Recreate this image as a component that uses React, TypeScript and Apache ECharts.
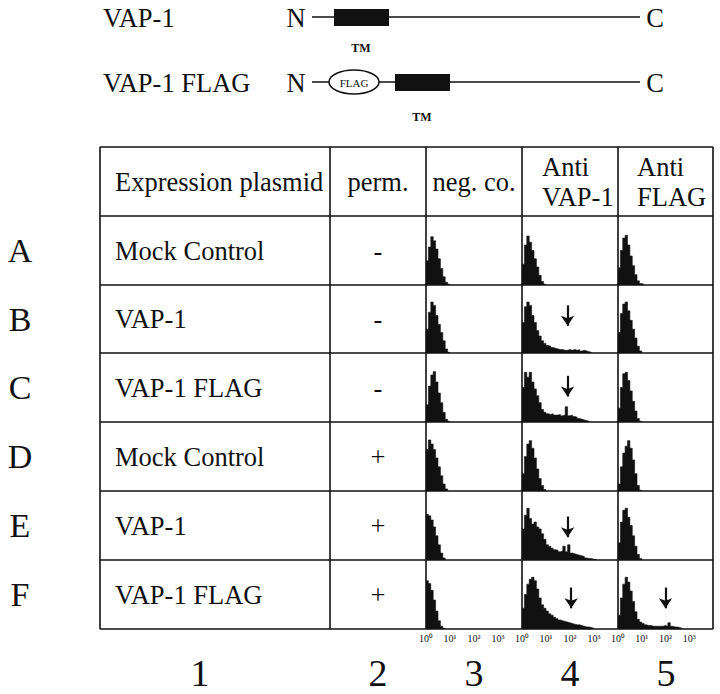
import React, { useEffect, useRef } from "react";
import * as echarts from "echarts";

// ---------- data ----------
const ROW_LETTERS = ["A", "B", "C", "D", "E", "F"];
const PLASMIDS = ["Mock Control", "VAP-1", "VAP-1 FLAG", "Mock Control", "VAP-1", "VAP-1 FLAG"];
const PERM = ["-", "-", "-", "+", "+", "+"];
const HEADERS = ["Expression plasmid", "perm.", "neg. co.", "Anti\nVAP-1", "Anti\nFLAG"];
const COLUMN_NUMBERS = ["1", "2", "3", "4", "5"];
const DECADE_LABELS = ["10⁰", "10¹", "10²", "10³"];
const CONSTRUCTS = ["VAP-1", "VAP-1 FLAG"];

// width of one histogram channel, in decades of fluorescence (10^0 .. 10^4)
const BIN = 0.1;

// channel counts, % of panel height, channel 0 starting at 10^0
const A_NEG = [35, 55, 70, 64, 52, 38, 24, 12, 4, 1];
const A_VAP = [30, 58, 71, 62, 50, 38, 26, 14, 5, 1];
const A_FLAG = [25, 50, 68, 72, 58, 42, 28, 15, 6, 2, 1];

const B_NEG = [35, 60, 75, 70, 55, 42, 30, 18, 6, 1];
const B_VAP = [45, 68, 75, 70, 55, 45, 33, 25, 18, 14, 11, 10, 8, 7, 6, 5, 5, 4, 4, 5, 4, 5, 4, 5, 3, 4, 3, 2, 1];
const B_FLAG = [30, 58, 72, 75, 62, 48, 35, 22, 10, 3];

const C_NEG = [25, 52, 68, 73, 58, 42, 28, 14, 4, 1];
const C_VAP = [50, 72, 65, 72, 58, 48, 38, 28, 18, 14, 12, 11, 12, 10, 10, 11, 9, 10, 22, 9, 10, 8, 7, 5, 4, 3, 2, 1];
const C_FLAG = [20, 50, 70, 72, 60, 45, 30, 16, 5, 1];

const D_NEG = [60, 74, 68, 60, 48, 35, 22, 10, 3];
const D_VAP = [25, 50, 68, 73, 62, 48, 32, 18, 8, 2];
const D_FLAG = [10, 35, 55, 65, 73, 62, 45, 25, 8, 1];

const E_NEG = [66, 64, 58, 48, 35, 22, 10, 3];
const E_VAP = [45, 65, 75, 60, 52, 55, 48, 45, 38, 30, 22, 20, 17, 15, 14, 12, 13, 20, 12, 22, 10, 9, 8, 7, 6, 5, 3, 2, 2, 1, 1];
const E_FLAG = [25, 55, 72, 75, 62, 50, 35, 20, 8, 2];

const F_NEG = [70, 66, 56, 42, 26, 12, 4, 1];
const F_VAP = [30, 50, 65, 72, 75, 70, 58, 45, 35, 30, 26, 22, 20, 17, 15, 13, 12, 11, 10, 9, 8, 7, 6, 6, 5, 4, 3, 3, 2, 1];
const F_FLAG = [20, 45, 65, 75, 68, 55, 40, 25, 14, 10, 8, 6, 5, 5, 4, 4, 4, 4, 4, 5, 4, 9, 4, 3, 3, 2, 1];

const HISTOGRAMS = [
  [A_NEG, A_VAP, A_FLAG],
  [B_NEG, B_VAP, B_FLAG],
  [C_NEG, C_VAP, C_FLAG],
  [D_NEG, D_VAP, D_FLAG],
  [E_NEG, E_VAP, E_FLAG],
  [F_NEG, F_VAP, F_FLAG],
];

// arrows marking the positive population: row, histogram column, decade, from/to (% height)
const ARROWS = [
  { row: 1, col: 1, x: 1.9, from: 70, to: 40 },
  { row: 2, col: 1, x: 1.9, from: 67, to: 37 },
  { row: 4, col: 1, x: 1.9, from: 63, to: 33 },
  { row: 5, col: 1, x: 2.05, from: 60, to: 30 },
  { row: 5, col: 2, x: 2.0, from: 60, to: 30 },
];

// ---------- layout ----------
const W = 720;
const H = 694;
const COL_X = [100, 330, 426, 522, 618, 713];
const ROW_Y = [147, 216, 285, 353, 422, 491, 560, 629];
const SERIF = '"Liberation Serif", "Times New Roman", serif';
const INK = "#111";

function txt(text: string, x: number, y: number, size: number, align = "center", extra: any = {}, z = 14) {
  const weight = extra.fontWeight ?? "normal";
  return {
    type: "text",
    silent: true,
    z,
    style: {
      text,
      x,
      y,
      fill: INK,
      font: `${weight} ${size}px ${SERIF}`,
      fontSize: size,
      fontFamily: SERIF,
      align,
      textAlign: align,
      verticalAlign: "middle",
      textVerticalAlign: "middle",
      ...extra,
    },
  };
}

function hline(x1: number, x2: number, y: number, w = 1.6) {
  return { type: "line", silent: true, z: 12, shape: { x1, y1: y, x2, y2: y }, style: { stroke: INK, lineWidth: w } };
}
function vline(x: number, y1: number, y2: number, w = 1.6) {
  return { type: "line", silent: true, z: 12, shape: { x1: x, y1, x2: x, y2 }, style: { stroke: INK, lineWidth: w } };
}

function buildOption() {
  const grid: any[] = [];
  const xAxis: any[] = [];
  const yAxis: any[] = [];
  const series: any[] = [];

  HISTOGRAMS.forEach((row, r) => {
    row.forEach((vals, c) => {
      const g = grid.length;
      const left = COL_X[c + 2];
      const right = COL_X[c + 3];
      const top = ROW_Y[r + 1];
      const bottom = ROW_Y[r + 2];
      grid.push({ left, top, width: right - left, height: bottom - top, containLabel: false });
      xAxis.push({
        gridIndex: g,
        type: "value",
        min: 0,
        max: 4,
        interval: 1,
        axisLine: { show: false },
        axisTick: { show: false },
        splitLine: { show: false },
        axisLabel:
          r === HISTOGRAMS.length - 1
            ? {
                show: true,
                margin: 4,
                fontSize: 10,
                fontFamily: SERIF,
                color: INK,
                showMaxLabel: false,
                formatter: (v: number) => DECADE_LABELS[Math.round(v)] ?? "",
              }
            : { show: false },
      });
      yAxis.push({ gridIndex: g, type: "value", min: 0, max: 100, show: false });

      const arrows = ARROWS.filter((a) => a.row === r && a.col === c);
      const data = vals.map((v, i) => [i * BIN, v]);
      data.push([vals.length * BIN, 0]);
      series.push({
        type: "line",
        xAxisIndex: g,
        yAxisIndex: g,
        data,
        step: "end",
        symbol: "none",
        showSymbol: false,
        silent: true,
        lineStyle: { width: 0.6, color: INK },
        itemStyle: { color: INK },
        areaStyle: { color: INK, opacity: 1 },
        markLine: arrows.length
          ? {
              silent: true,
              symbol: ["none", "arrow"],
              symbolSize: [10, 10],
              lineStyle: { color: INK, width: 2.2, type: "solid" },
              label: { show: false },
              data: arrows.map((a) => [{ coord: [a.x, a.from] }, { coord: [a.x, a.to] }]),
            }
          : undefined,
      });
    });
  });

  const graphic: any[] = [];
  // table lines
  ROW_Y.forEach((y) => graphic.push(hline(COL_X[0], COL_X[COL_X.length - 1], y)));
  COL_X.forEach((x) => graphic.push(vline(x, ROW_Y[0], ROW_Y[ROW_Y.length - 1])));

  // header
  const hy = (ROW_Y[0] + ROW_Y[1]) / 2;
  graphic.push(txt(HEADERS[0], COL_X[0] + 15, hy, 26.5, "left"));
  graphic.push(txt(HEADERS[1], (COL_X[1] + COL_X[2]) / 2, hy, 26.5));
  graphic.push(txt(HEADERS[2], (COL_X[2] + COL_X[3]) / 2, hy, 26.5));
  graphic.push(txt(HEADERS[3], COL_X[3] + 20, hy, 26.5, "left", { lineHeight: 30 }));
  graphic.push(txt(HEADERS[4], COL_X[4] + 19, hy, 26.5, "left", { lineHeight: 30 }));

  // rows
  ROW_LETTERS.forEach((L, r) => {
    const cy = (ROW_Y[r + 1] + ROW_Y[r + 2]) / 2;
    graphic.push(txt(L, 20, cy, 34));
    graphic.push(txt(PLASMIDS[r], COL_X[0] + 15, cy, 26.5, "left"));
    graphic.push(txt(PERM[r], (COL_X[1] + COL_X[2]) / 2, cy, 26.5));
  });

  // column numbers
  const numX = [200, 378, 474, 570, 666];
  COLUMN_NUMBERS.forEach((n, i) => graphic.push(txt(n, numX[i], 673, 38)));

  // construct diagrams
  const rowsY = [17, 82];
  CONSTRUCTS.forEach((name, i) => {
    const y = rowsY[i];
    graphic.push(txt(name, 103, y + 1, 26.5, "left"));
    graphic.push(txt("N", 296, y + 1, 26.5));
    graphic.push(txt("C", 655, y + 1, 26.5));
    graphic.push({ type: "line", silent: true, z: 9, shape: { x1: 312, y1: y, x2: 640, y2: y }, style: { stroke: INK, lineWidth: 1.6 } });
    const boxX = i === 0 ? 334 : 395;
    graphic.push({ type: "rect", silent: true, z: 11, shape: { x: boxX, y: y - 8, width: 55, height: 17 }, style: { fill: INK } });
    graphic.push(txt("TM", boxX + 27, y + (i === 0 ? 31 : 35), 12, "center", { fontWeight: "bold" }));
    if (i === 1) {
      graphic.push({ type: "ellipse", silent: true, z: 11, shape: { cx: 354, cy: y, rx: 25, ry: 12 }, style: { fill: "#fff", stroke: INK, lineWidth: 1.5 } });
      graphic.push(txt("FLAG", 354, y + 1, 11, "center", {}, 15));
    }
  });

  return {
    animation: false,
    backgroundColor: "#fff",
    grid,
    xAxis,
    yAxis,
    series,
    graphic,
  };
}

export default function App() {
  const ref = useRef<HTMLDivElement>(null);
  useEffect(() => {
    if (!ref.current) return;
    const chart = echarts.init(ref.current, undefined, { renderer: "svg", width: W, height: H });
    chart.setOption(buildOption() as any);
    return () => chart.dispose();
  }, []);
  return <div ref={ref} style={{ position: "absolute", left: 0, top: 0, width: W, height: H, background: "#fff" }} />;
}
